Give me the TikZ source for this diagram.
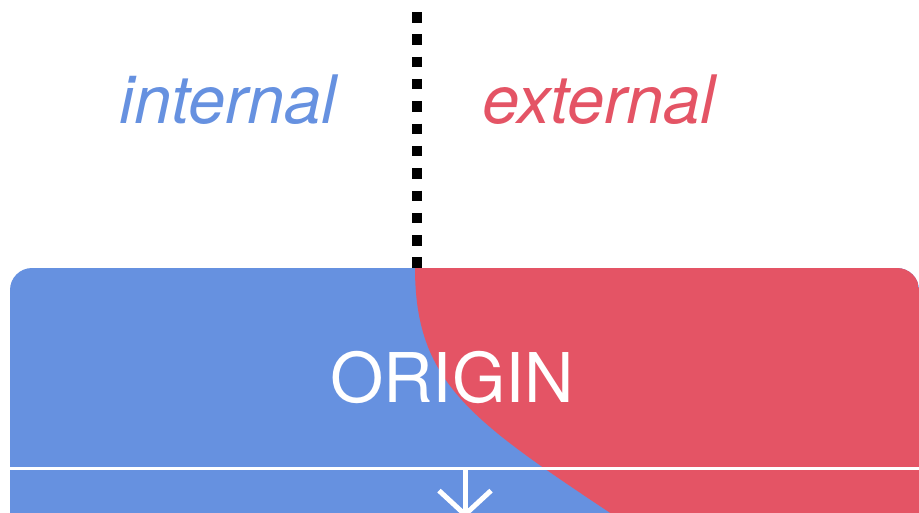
\documentclass[tikz,border=0pt]{standalone}
\usepackage{fontspec}
\setmainfont{TeX Gyre Heros}
\usepackage{tikz}
\usetikzlibrary{arrows.meta}
\usetikzlibrary{calc}
\usetikzlibrary{positioning}
\definecolor{intblue}{RGB}{102,145,224}
\definecolor{extred}{RGB}{228,84,101}
\tikzstyle{side} = [font=\fontsize{19}{19}\selectfont\itshape, inner sep=0pt]
\tikzstyle{title} = [text=white, font=\fontsize{19.5}{19.5}\selectfont, inner sep=0pt]
\tikzstyle{input} = [coordinate]
\tikzstyle{output} = [coordinate]

\begin{document}
\begin{tikzpicture}[x=0.01cm, y=-0.01cm, >={Straight Barb[length=0.24cm, width=0.52cm]}]
    \useasboundingbox (0,0) rectangle (919,512);
    \clip (0,0) rectangle (919,512);
    % We start by placing the two halves of the box
    \fill [intblue, rounded corners=0.22cm] (10,560) rectangle (919,268);
    \begin{scope}
        \clip [rounded corners=0.22cm] (10,560) rectangle (919,268);
        \fill [extred] (415,260) -- (415,268) .. controls (415,400) and (490,430) .. (680,560) -- (930,560) -- (930,260) -- cycle;
    \end{scope}
    \draw [white, line width=0.03cm] (10,468) -- (919,468);

    % Then the labels
    \node [side, text=intblue] (internal) at (228,100) {internal};
    \node [side, text=extred] (external) at (599,100) {external};
    \node [title] (origin) at (452,377) {ORIGIN};

    % Once the nodes are placed, connecting them is easy.
    \node [input, name=top] at (417,12) {};
    \node [input, name=border] at (417,268) {};
    \node [input, name=line] at (465,468) {};
    \node [output, name=down] at (465,518) {};
    \draw [line width=0.1cm, dash pattern=on 0.105cm off 0.118cm] (top) -- (border);
    \draw [->, white, line width=0.05cm] (line) -- (down);
\end{tikzpicture}
\end{document}
